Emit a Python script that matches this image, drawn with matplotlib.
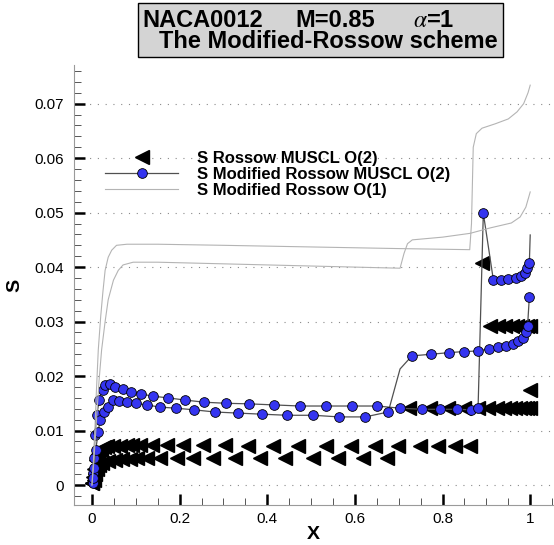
import matplotlib
matplotlib.use('Agg')
import matplotlib.pyplot as plt
from matplotlib.patches import Rectangle
from matplotlib.ticker import MultipleLocator, FuncFormatter

plt.rcParams['font.family'] = ['Liberation Sans', 'DejaVu Sans']
plt.rcParams['mathtext.fontset'] = 'stix'

# S Rossow MUSCL O(2) - two surfaces
ros_a_x = [0.000, 0.002, 0.005, 0.009, 0.014, 0.020, 0.027, 0.034, 0.048, 0.064, 0.079, 0.091,
           0.110, 0.136, 0.171, 0.208, 0.253, 0.304, 0.356, 0.413, 0.470, 0.534, 0.591, 0.646,
           0.699, 0.749, 0.790, 0.829, 0.863, 0.890, 0.909, 0.927, 0.943, 0.959, 0.970, 0.982,
           0.993, 1.000]
ros_a_s = [0.0004, 0.0015, 0.0030, 0.0045, 0.0057, 0.0065, 0.0069, 0.0071, 0.0072, 0.0072,
           0.0073, 0.0073, 0.0073, 0.0073, 0.0073, 0.0073, 0.0073, 0.0073, 0.0072, 0.0072,
           0.0072, 0.0072, 0.0072, 0.0072, 0.0072, 0.0072, 0.0071, 0.0071, 0.0071, 0.0407,
           0.0291, 0.0291, 0.0291, 0.0291, 0.0291, 0.0291, 0.0291, 0.0291]
ros_b_x = [0.001, 0.004, 0.008, 0.012, 0.017, 0.022, 0.037, 0.053, 0.068, 0.087, 0.103, 0.125,
           0.155, 0.193, 0.231, 0.276, 0.326, 0.384, 0.441, 0.505, 0.562, 0.619, 0.673, 0.724,
           0.772, 0.812, 0.850, 0.880, 0.904, 0.925, 0.940, 0.954, 0.966, 0.977, 0.986, 0.993,
           1.000, 1.000]
ros_b_s = [0.0003, 0.0010, 0.0020, 0.0029, 0.0036, 0.0041, 0.0044, 0.0046, 0.0047, 0.0048,
           0.0049, 0.0050, 0.0050, 0.0050, 0.0050, 0.0050, 0.0050, 0.0050, 0.0050, 0.0050,
           0.0050, 0.0049, 0.0049, 0.0141, 0.0141, 0.0141, 0.0141, 0.0141, 0.0141, 0.0141,
           0.0141, 0.0141, 0.0141, 0.0141, 0.0141, 0.0141, 0.0141, 0.0174]

# S Modified Rossow MUSCL O(2)
mod_u_x = [0.0016, 0.003, 0.0046, 0.0068, 0.0107, 0.0167, 0.0244, 0.0297, 0.041, 0.0525, 0.070,
           0.089, 0.112, 0.140, 0.173, 0.212, 0.256, 0.306, 0.358, 0.416, 0.475, 0.534, 0.594,
           0.651, 0.703, 0.753, 0.795, 0.833, 0.865, 0.881, 0.893, 0.916, 0.934, 0.950, 0.968,
           0.979, 0.989, 0.993, 0.998, 1.000]
mod_u_s = [0.0003, 0.0022, 0.0050, 0.0092, 0.0128, 0.0156, 0.0174, 0.0183, 0.0185, 0.0180, 0.0176,
           0.0171, 0.0167, 0.0163, 0.0160, 0.0156, 0.0152, 0.0150, 0.0149, 0.0147, 0.0145, 0.0145,
           0.0145, 0.0145, 0.0141, 0.0139, 0.0139, 0.0139, 0.0138, 0.0141, 0.0499, 0.0376, 0.0376,
           0.0378, 0.0380, 0.0383, 0.0389, 0.0398, 0.0407, 0.0459]
mod_l_x = [0.0016, 0.0046, 0.0084, 0.0144, 0.018, 0.027, 0.037, 0.049, 0.062, 0.079, 0.100, 0.125,
           0.155, 0.192, 0.233, 0.281, 0.333, 0.388, 0.445, 0.505, 0.564, 0.623, 0.676, 0.703,
           0.730, 0.773, 0.815, 0.849, 0.881, 0.905, 0.926, 0.945, 0.960, 0.973, 0.983, 0.990,
           0.994, 0.998]
mod_l_s = [0.0013, 0.0031, 0.0064, 0.0097, 0.0119, 0.0134, 0.0143, 0.0156, 0.0154, 0.0152, 0.0150,
           0.0147, 0.0143, 0.0141, 0.0138, 0.0134, 0.0132, 0.0130, 0.0128, 0.0128, 0.0125, 0.0125,
           0.0134, 0.0213, 0.0237, 0.0240, 0.0243, 0.0245, 0.0246, 0.0250, 0.0253, 0.0256, 0.0259,
           0.0264, 0.0270, 0.0280, 0.0292, 0.0345]

# S Modified Rossow O(1)
o1_u_x = [0.0, 0.003, 0.006, 0.010, 0.0144, 0.020, 0.025, 0.030, 0.037, 0.045, 0.056, 0.080,
          0.150, 0.300, 0.500, 0.700, 0.862, 0.866, 0.870, 0.877, 0.890, 0.920, 0.950, 0.970,
          0.985, 0.995, 1.0]
o1_u_s = [0.0, 0.004, 0.009, 0.017, 0.0248, 0.031, 0.0355, 0.0394, 0.0418, 0.0431, 0.0440, 0.0442,
          0.0442, 0.0440, 0.0437, 0.0434, 0.0432, 0.0480, 0.0620, 0.0645, 0.0655, 0.0663, 0.0672,
          0.0685, 0.0700, 0.0720, 0.0734]
o1_l_x = [0.0, 0.004, 0.008, 0.012, 0.016, 0.022, 0.030, 0.037, 0.049, 0.060, 0.071, 0.094, 0.150,
          0.300, 0.500, 0.650, 0.703, 0.712, 0.720, 0.731, 0.800, 0.863, 0.909, 0.957, 0.977,
          0.990, 1.0]
o1_l_s = [0.0, 0.004, 0.009, 0.014, 0.019, 0.0248, 0.030, 0.034, 0.0376, 0.0394, 0.0404, 0.0409,
          0.0409, 0.0406, 0.0402, 0.0399, 0.0398, 0.0425, 0.0443, 0.0450, 0.0455, 0.0462, 0.0472,
          0.0481, 0.0492, 0.0510, 0.0538]

blue = '#3535f0'
fig = plt.figure(figsize=(5.54, 5.45), dpi=100)
ax = fig.add_axes([74/554, 1-505/545, 479/554, 440/545])

tri = dict(marker='<', ms=10, mfc='black', mec='black', ls='none')
h1, = ax.plot(ros_a_x, ros_a_s, **tri)
ax.plot(ros_b_x, ros_b_s, **tri)

circ = dict(marker='o', ms=7, mfc=blue, mec='black', mew=0.6, color='#505050', lw=0.9)
h2, = ax.plot(mod_u_x, mod_u_s, markevery=list(range(len(mod_u_x)-1)), **circ)
ax.plot(mod_l_x, mod_l_s, markevery=[i for i in range(len(mod_l_x)) if i != 23], **circ)

h3, = ax.plot(o1_u_x, o1_u_s, color='#b4b4b4', lw=0.8)
ax.plot(o1_l_x, o1_l_s, color='#b4b4b4', lw=0.8)

ax.set_xlim(-0.041, 1.052)
ax.set_ylim(-0.00367, 0.0771)
for sp in ['top', 'right']:
    ax.spines[sp].set_visible(False)
for sp in ['left', 'bottom']:
    ax.spines[sp].set_color('#9a9a9a')
    ax.spines[sp].set_linewidth(0.8)

ax.xaxis.set_major_locator(MultipleLocator(0.2))
ax.xaxis.set_minor_locator(MultipleLocator(0.05))
ax.yaxis.set_major_locator(MultipleLocator(0.01))
ax.yaxis.set_minor_locator(MultipleLocator(0.002))
fmt = FuncFormatter(lambda v, p: '%g' % round(v, 4))
ax.xaxis.set_major_formatter(fmt)
ax.yaxis.set_major_formatter(fmt)
ax.tick_params(which='major', direction='in', length=8, width=1.8, color='black',
               labelsize=11, pad=7)
ax.tick_params(axis='x', which='major', pad=5)
ax.tick_params(which='minor', direction='in', length=5, width=0.7, color='#555555')
ax.grid(axis='y', which='major', linestyle=(0, (1, 6)), color='#8a8a8a', lw=0.8)

ax.set_xlabel('X', fontsize=14, fontweight='bold', labelpad=0)
ax.set_ylabel('S', fontsize=14, fontweight='bold', labelpad=8)

fig.legend([h1, h2, h3],
           ['S Rossow MUSCL O(2)', 'S Modified Rossow MUSCL O(2)', 'S Modified Rossow O(1)'],
           loc='upper left', bbox_to_anchor=(105/554, 1-151/545), frameon=False,
           prop=dict(weight='bold', size=12), handlelength=4.4, handletextpad=1.1,
           borderpad=0, borderaxespad=0, labelspacing=0.05, numpoints=1)

# title box
fig.patches.append(Rectangle((138/554, 1-57/545), (503-138)/554, 54/545,
                             transform=fig.transFigure, facecolor='#d4d4d4',
                             edgecolor='black', lw=1))
tkw = dict(fontsize=17, fontweight='bold', va='baseline')
fig.text(142/554, 1-27/545, 'NACA0012', **tkw)
fig.text(295/554, 1-27/545, 'M=0.85', **tkw)
fig.text(413/554, 1-27/545, r'$\alpha$=1', **tkw)
fig.text(498/554, 1-48/545, 'The Modified-Rossow scheme', ha='right', **tkw)

fig.savefig('out.png', dpi=100)
